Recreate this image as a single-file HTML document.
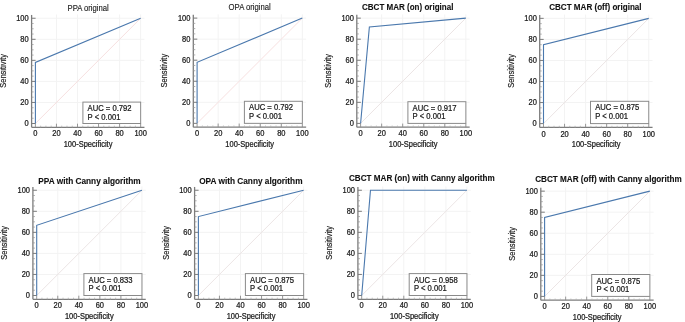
<!DOCTYPE html>
<html><head><meta charset="utf-8"><style>
html,body{margin:0;padding:0;background:#fff;}
body{width:685px;height:322px;overflow:hidden;}
svg{display:block;filter:blur(0.3px);}
.t{font-family:"Liberation Sans",sans-serif;font-size:7.5px;fill:#1a1a1a;stroke:#1a1a1a;stroke-width:0.22px;}
.tt{font-family:"Liberation Sans",sans-serif;font-size:7.7px;fill:#1a1a1a;stroke:#1a1a1a;stroke-width:0.12px;}
.ts{font-family:"Liberation Sans",sans-serif;font-size:7.5px;fill:#1a1a1a;stroke:#1a1a1a;stroke-width:0.15px;}
.tx{font-family:"Liberation Sans",sans-serif;font-size:7.65px;fill:#1a1a1a;stroke:#1a1a1a;stroke-width:0.22px;}
.tb{font-family:"Liberation Sans",sans-serif;font-size:9.5px;font-weight:bold;fill:#111;stroke:#111;stroke-width:0.12px;}
</style></head><body>
<svg width="685" height="322" viewBox="0 0 685 322">
<rect width="685" height="322" fill="#fff"/>
<g><line x1="56.45" y1="127.30" x2="56.45" y2="14.45" stroke="#f3f3f3" stroke-width="1"/><line x1="31.60" y1="102.45" x2="144.45" y2="102.45" stroke="#f3f3f3" stroke-width="1"/><line x1="77.50" y1="127.30" x2="77.50" y2="14.45" stroke="#f3f3f3" stroke-width="1"/><line x1="31.60" y1="81.40" x2="144.45" y2="81.40" stroke="#f3f3f3" stroke-width="1"/><line x1="98.55" y1="127.30" x2="98.55" y2="14.45" stroke="#f3f3f3" stroke-width="1"/><line x1="31.60" y1="60.35" x2="144.45" y2="60.35" stroke="#f3f3f3" stroke-width="1"/><line x1="119.60" y1="127.30" x2="119.60" y2="14.45" stroke="#f3f3f3" stroke-width="1"/><line x1="31.60" y1="39.30" x2="144.45" y2="39.30" stroke="#f3f3f3" stroke-width="1"/><line x1="140.65" y1="127.30" x2="140.65" y2="14.45" stroke="#f3f3f3" stroke-width="1"/><line x1="31.60" y1="18.25" x2="144.45" y2="18.25" stroke="#f3f3f3" stroke-width="1"/><line x1="35.40" y1="123.50" x2="140.65" y2="18.25" stroke="#f7e0e0" stroke-width="1"/><line x1="31.60" y1="14.95" x2="31.60" y2="127.30" stroke="#7c7c7c" stroke-width="1.3"/><line x1="31.60" y1="127.30" x2="144.45" y2="127.30" stroke="#7c7c7c" stroke-width="1.3"/><line x1="31.60" y1="123.50" x2="35.60" y2="123.50" stroke="#7c7c7c" stroke-width="1"/><line x1="35.40" y1="127.30" x2="35.40" y2="123.70" stroke="#8c8c8c" stroke-width="0.9"/><line x1="31.60" y1="118.24" x2="33.60" y2="118.24" stroke="#9a9a9a" stroke-width="0.8"/><line x1="40.66" y1="127.30" x2="40.66" y2="125.70" stroke="#b4b4b4" stroke-width="0.9"/><line x1="31.60" y1="112.97" x2="33.60" y2="112.97" stroke="#9a9a9a" stroke-width="0.8"/><line x1="45.92" y1="127.30" x2="45.92" y2="125.70" stroke="#b4b4b4" stroke-width="0.9"/><line x1="31.60" y1="107.71" x2="33.60" y2="107.71" stroke="#9a9a9a" stroke-width="0.8"/><line x1="51.19" y1="127.30" x2="51.19" y2="125.70" stroke="#b4b4b4" stroke-width="0.9"/><line x1="31.60" y1="102.45" x2="35.60" y2="102.45" stroke="#7c7c7c" stroke-width="1"/><line x1="56.45" y1="127.30" x2="56.45" y2="123.70" stroke="#8c8c8c" stroke-width="0.9"/><line x1="31.60" y1="97.19" x2="33.60" y2="97.19" stroke="#9a9a9a" stroke-width="0.8"/><line x1="61.71" y1="127.30" x2="61.71" y2="125.70" stroke="#b4b4b4" stroke-width="0.9"/><line x1="31.60" y1="91.92" x2="33.60" y2="91.92" stroke="#9a9a9a" stroke-width="0.8"/><line x1="66.97" y1="127.30" x2="66.97" y2="125.70" stroke="#b4b4b4" stroke-width="0.9"/><line x1="31.60" y1="86.66" x2="33.60" y2="86.66" stroke="#9a9a9a" stroke-width="0.8"/><line x1="72.24" y1="127.30" x2="72.24" y2="125.70" stroke="#b4b4b4" stroke-width="0.9"/><line x1="31.60" y1="81.40" x2="35.60" y2="81.40" stroke="#7c7c7c" stroke-width="1"/><line x1="77.50" y1="127.30" x2="77.50" y2="123.70" stroke="#8c8c8c" stroke-width="0.9"/><line x1="31.60" y1="76.14" x2="33.60" y2="76.14" stroke="#9a9a9a" stroke-width="0.8"/><line x1="82.76" y1="127.30" x2="82.76" y2="125.70" stroke="#b4b4b4" stroke-width="0.9"/><line x1="31.60" y1="70.88" x2="33.60" y2="70.88" stroke="#9a9a9a" stroke-width="0.8"/><line x1="88.03" y1="127.30" x2="88.03" y2="125.70" stroke="#b4b4b4" stroke-width="0.9"/><line x1="31.60" y1="65.61" x2="33.60" y2="65.61" stroke="#9a9a9a" stroke-width="0.8"/><line x1="93.29" y1="127.30" x2="93.29" y2="125.70" stroke="#b4b4b4" stroke-width="0.9"/><line x1="31.60" y1="60.35" x2="35.60" y2="60.35" stroke="#7c7c7c" stroke-width="1"/><line x1="98.55" y1="127.30" x2="98.55" y2="123.70" stroke="#8c8c8c" stroke-width="0.9"/><line x1="31.60" y1="55.09" x2="33.60" y2="55.09" stroke="#9a9a9a" stroke-width="0.8"/><line x1="103.81" y1="127.30" x2="103.81" y2="125.70" stroke="#b4b4b4" stroke-width="0.9"/><line x1="31.60" y1="49.83" x2="33.60" y2="49.83" stroke="#9a9a9a" stroke-width="0.8"/><line x1="109.07" y1="127.30" x2="109.07" y2="125.70" stroke="#b4b4b4" stroke-width="0.9"/><line x1="31.60" y1="44.56" x2="33.60" y2="44.56" stroke="#9a9a9a" stroke-width="0.8"/><line x1="114.34" y1="127.30" x2="114.34" y2="125.70" stroke="#b4b4b4" stroke-width="0.9"/><line x1="31.60" y1="39.30" x2="35.60" y2="39.30" stroke="#7c7c7c" stroke-width="1"/><line x1="119.60" y1="127.30" x2="119.60" y2="123.70" stroke="#8c8c8c" stroke-width="0.9"/><line x1="31.60" y1="34.04" x2="33.60" y2="34.04" stroke="#9a9a9a" stroke-width="0.8"/><line x1="124.86" y1="127.30" x2="124.86" y2="125.70" stroke="#b4b4b4" stroke-width="0.9"/><line x1="31.60" y1="28.78" x2="33.60" y2="28.78" stroke="#9a9a9a" stroke-width="0.8"/><line x1="130.12" y1="127.30" x2="130.12" y2="125.70" stroke="#b4b4b4" stroke-width="0.9"/><line x1="31.60" y1="23.51" x2="33.60" y2="23.51" stroke="#9a9a9a" stroke-width="0.8"/><line x1="135.39" y1="127.30" x2="135.39" y2="125.70" stroke="#b4b4b4" stroke-width="0.9"/><line x1="31.60" y1="18.25" x2="35.60" y2="18.25" stroke="#7c7c7c" stroke-width="1"/><line x1="140.65" y1="127.30" x2="140.65" y2="123.70" stroke="#8c8c8c" stroke-width="0.9"/><text transform="translate(28.70,126.20) scale(1,1.1)" text-anchor="end" class="t">0</text><text transform="translate(35.40,136.40) scale(1,1.1)" text-anchor="middle" class="t">0</text><text transform="translate(28.70,105.15) scale(1,1.1)" text-anchor="end" class="t">20</text><text transform="translate(56.45,136.40) scale(1,1.1)" text-anchor="middle" class="t">20</text><text transform="translate(28.70,84.10) scale(1,1.1)" text-anchor="end" class="t">40</text><text transform="translate(77.50,136.40) scale(1,1.1)" text-anchor="middle" class="t">40</text><text transform="translate(28.70,63.05) scale(1,1.1)" text-anchor="end" class="t">60</text><text transform="translate(98.55,136.40) scale(1,1.1)" text-anchor="middle" class="t">60</text><text transform="translate(28.70,42.00) scale(1,1.1)" text-anchor="end" class="t">80</text><text transform="translate(119.60,136.40) scale(1,1.1)" text-anchor="middle" class="t">80</text><text transform="translate(28.70,20.95) scale(1,1.1)" text-anchor="end" class="t">100</text><text transform="translate(140.65,136.40) scale(1,1.1)" text-anchor="middle" class="t">100</text><text transform="translate(88.03,147.30) scale(1,1.1)" text-anchor="middle" class="t">100-Specificity</text><text transform="translate(5.80,70.88) rotate(-90) scale(1,1.1)" text-anchor="middle" class="ts">Sensitivity</text><text transform="translate(88.15,11.10) scale(1,1.1)" text-anchor="middle" class="tt">PPA original</text><polyline points="35.40,123.50 35.40,62.45 140.65,18.25" fill="none" stroke="#4a78ad" stroke-width="1.1" stroke-linejoin="miter"/><rect x="82.90" y="102.10" width="57.75" height="21.40" fill="#fff" stroke="#8a8a8a" stroke-width="1"/><text transform="translate(87.60,111.20) scale(1,1.1)" class="tx">AUC = 0.792</text><text transform="translate(87.60,119.70) scale(1,1.1)" class="tx">P &lt; 0.001</text></g>
<g><line x1="218.15" y1="127.15" x2="218.15" y2="14.30" stroke="#f3f3f3" stroke-width="1"/><line x1="193.30" y1="102.30" x2="306.15" y2="102.30" stroke="#f3f3f3" stroke-width="1"/><line x1="239.20" y1="127.15" x2="239.20" y2="14.30" stroke="#f3f3f3" stroke-width="1"/><line x1="193.30" y1="81.25" x2="306.15" y2="81.25" stroke="#f3f3f3" stroke-width="1"/><line x1="260.25" y1="127.15" x2="260.25" y2="14.30" stroke="#f3f3f3" stroke-width="1"/><line x1="193.30" y1="60.20" x2="306.15" y2="60.20" stroke="#f3f3f3" stroke-width="1"/><line x1="281.30" y1="127.15" x2="281.30" y2="14.30" stroke="#f3f3f3" stroke-width="1"/><line x1="193.30" y1="39.15" x2="306.15" y2="39.15" stroke="#f3f3f3" stroke-width="1"/><line x1="302.35" y1="127.15" x2="302.35" y2="14.30" stroke="#f3f3f3" stroke-width="1"/><line x1="193.30" y1="18.10" x2="306.15" y2="18.10" stroke="#f3f3f3" stroke-width="1"/><line x1="197.10" y1="123.35" x2="302.35" y2="18.10" stroke="#f7e0e0" stroke-width="1"/><line x1="193.30" y1="14.80" x2="193.30" y2="127.15" stroke="#7c7c7c" stroke-width="1.3"/><line x1="193.30" y1="127.15" x2="306.15" y2="127.15" stroke="#7c7c7c" stroke-width="1.3"/><line x1="193.30" y1="123.35" x2="197.30" y2="123.35" stroke="#7c7c7c" stroke-width="1"/><line x1="197.10" y1="127.15" x2="197.10" y2="123.55" stroke="#8c8c8c" stroke-width="0.9"/><line x1="193.30" y1="118.09" x2="195.30" y2="118.09" stroke="#9a9a9a" stroke-width="0.8"/><line x1="202.36" y1="127.15" x2="202.36" y2="125.55" stroke="#b4b4b4" stroke-width="0.9"/><line x1="193.30" y1="112.82" x2="195.30" y2="112.82" stroke="#9a9a9a" stroke-width="0.8"/><line x1="207.62" y1="127.15" x2="207.62" y2="125.55" stroke="#b4b4b4" stroke-width="0.9"/><line x1="193.30" y1="107.56" x2="195.30" y2="107.56" stroke="#9a9a9a" stroke-width="0.8"/><line x1="212.89" y1="127.15" x2="212.89" y2="125.55" stroke="#b4b4b4" stroke-width="0.9"/><line x1="193.30" y1="102.30" x2="197.30" y2="102.30" stroke="#7c7c7c" stroke-width="1"/><line x1="218.15" y1="127.15" x2="218.15" y2="123.55" stroke="#8c8c8c" stroke-width="0.9"/><line x1="193.30" y1="97.04" x2="195.30" y2="97.04" stroke="#9a9a9a" stroke-width="0.8"/><line x1="223.41" y1="127.15" x2="223.41" y2="125.55" stroke="#b4b4b4" stroke-width="0.9"/><line x1="193.30" y1="91.77" x2="195.30" y2="91.77" stroke="#9a9a9a" stroke-width="0.8"/><line x1="228.67" y1="127.15" x2="228.67" y2="125.55" stroke="#b4b4b4" stroke-width="0.9"/><line x1="193.30" y1="86.51" x2="195.30" y2="86.51" stroke="#9a9a9a" stroke-width="0.8"/><line x1="233.94" y1="127.15" x2="233.94" y2="125.55" stroke="#b4b4b4" stroke-width="0.9"/><line x1="193.30" y1="81.25" x2="197.30" y2="81.25" stroke="#7c7c7c" stroke-width="1"/><line x1="239.20" y1="127.15" x2="239.20" y2="123.55" stroke="#8c8c8c" stroke-width="0.9"/><line x1="193.30" y1="75.99" x2="195.30" y2="75.99" stroke="#9a9a9a" stroke-width="0.8"/><line x1="244.46" y1="127.15" x2="244.46" y2="125.55" stroke="#b4b4b4" stroke-width="0.9"/><line x1="193.30" y1="70.72" x2="195.30" y2="70.72" stroke="#9a9a9a" stroke-width="0.8"/><line x1="249.72" y1="127.15" x2="249.72" y2="125.55" stroke="#b4b4b4" stroke-width="0.9"/><line x1="193.30" y1="65.46" x2="195.30" y2="65.46" stroke="#9a9a9a" stroke-width="0.8"/><line x1="254.99" y1="127.15" x2="254.99" y2="125.55" stroke="#b4b4b4" stroke-width="0.9"/><line x1="193.30" y1="60.20" x2="197.30" y2="60.20" stroke="#7c7c7c" stroke-width="1"/><line x1="260.25" y1="127.15" x2="260.25" y2="123.55" stroke="#8c8c8c" stroke-width="0.9"/><line x1="193.30" y1="54.94" x2="195.30" y2="54.94" stroke="#9a9a9a" stroke-width="0.8"/><line x1="265.51" y1="127.15" x2="265.51" y2="125.55" stroke="#b4b4b4" stroke-width="0.9"/><line x1="193.30" y1="49.67" x2="195.30" y2="49.67" stroke="#9a9a9a" stroke-width="0.8"/><line x1="270.77" y1="127.15" x2="270.77" y2="125.55" stroke="#b4b4b4" stroke-width="0.9"/><line x1="193.30" y1="44.41" x2="195.30" y2="44.41" stroke="#9a9a9a" stroke-width="0.8"/><line x1="276.04" y1="127.15" x2="276.04" y2="125.55" stroke="#b4b4b4" stroke-width="0.9"/><line x1="193.30" y1="39.15" x2="197.30" y2="39.15" stroke="#7c7c7c" stroke-width="1"/><line x1="281.30" y1="127.15" x2="281.30" y2="123.55" stroke="#8c8c8c" stroke-width="0.9"/><line x1="193.30" y1="33.89" x2="195.30" y2="33.89" stroke="#9a9a9a" stroke-width="0.8"/><line x1="286.56" y1="127.15" x2="286.56" y2="125.55" stroke="#b4b4b4" stroke-width="0.9"/><line x1="193.30" y1="28.62" x2="195.30" y2="28.62" stroke="#9a9a9a" stroke-width="0.8"/><line x1="291.82" y1="127.15" x2="291.82" y2="125.55" stroke="#b4b4b4" stroke-width="0.9"/><line x1="193.30" y1="23.36" x2="195.30" y2="23.36" stroke="#9a9a9a" stroke-width="0.8"/><line x1="297.09" y1="127.15" x2="297.09" y2="125.55" stroke="#b4b4b4" stroke-width="0.9"/><line x1="193.30" y1="18.10" x2="197.30" y2="18.10" stroke="#7c7c7c" stroke-width="1"/><line x1="302.35" y1="127.15" x2="302.35" y2="123.55" stroke="#8c8c8c" stroke-width="0.9"/><text transform="translate(190.40,126.05) scale(1,1.1)" text-anchor="end" class="t">0</text><text transform="translate(197.10,136.25) scale(1,1.1)" text-anchor="middle" class="t">0</text><text transform="translate(190.40,105.00) scale(1,1.1)" text-anchor="end" class="t">20</text><text transform="translate(218.15,136.25) scale(1,1.1)" text-anchor="middle" class="t">20</text><text transform="translate(190.40,83.95) scale(1,1.1)" text-anchor="end" class="t">40</text><text transform="translate(239.20,136.25) scale(1,1.1)" text-anchor="middle" class="t">40</text><text transform="translate(190.40,62.90) scale(1,1.1)" text-anchor="end" class="t">60</text><text transform="translate(260.25,136.25) scale(1,1.1)" text-anchor="middle" class="t">60</text><text transform="translate(190.40,41.85) scale(1,1.1)" text-anchor="end" class="t">80</text><text transform="translate(281.30,136.25) scale(1,1.1)" text-anchor="middle" class="t">80</text><text transform="translate(190.40,20.80) scale(1,1.1)" text-anchor="end" class="t">100</text><text transform="translate(302.35,136.25) scale(1,1.1)" text-anchor="middle" class="t">100</text><text transform="translate(249.73,147.15) scale(1,1.1)" text-anchor="middle" class="t">100-Specificity</text><text transform="translate(167.20,70.72) rotate(-90) scale(1,1.1)" text-anchor="middle" class="ts">Sensitivity</text><text transform="translate(249.70,10.30) scale(1,1.1)" text-anchor="middle" class="tt">OPA original</text><polyline points="197.10,123.35 197.10,62.30 302.35,18.10" fill="none" stroke="#4a78ad" stroke-width="1.1" stroke-linejoin="miter"/><rect x="244.40" y="101.30" width="57.95" height="22.05" fill="#fff" stroke="#8a8a8a" stroke-width="1"/><text transform="translate(249.10,110.40) scale(1,1.1)" class="tx">AUC = 0.792</text><text transform="translate(249.10,118.90) scale(1,1.1)" class="tx">P &lt; 0.001</text></g>
<g><line x1="381.65" y1="127.20" x2="381.65" y2="14.35" stroke="#f3f3f3" stroke-width="1"/><line x1="356.80" y1="102.35" x2="469.65" y2="102.35" stroke="#f3f3f3" stroke-width="1"/><line x1="402.70" y1="127.20" x2="402.70" y2="14.35" stroke="#f3f3f3" stroke-width="1"/><line x1="356.80" y1="81.30" x2="469.65" y2="81.30" stroke="#f3f3f3" stroke-width="1"/><line x1="423.75" y1="127.20" x2="423.75" y2="14.35" stroke="#f3f3f3" stroke-width="1"/><line x1="356.80" y1="60.25" x2="469.65" y2="60.25" stroke="#f3f3f3" stroke-width="1"/><line x1="444.80" y1="127.20" x2="444.80" y2="14.35" stroke="#f3f3f3" stroke-width="1"/><line x1="356.80" y1="39.20" x2="469.65" y2="39.20" stroke="#f3f3f3" stroke-width="1"/><line x1="465.85" y1="127.20" x2="465.85" y2="14.35" stroke="#f3f3f3" stroke-width="1"/><line x1="356.80" y1="18.15" x2="469.65" y2="18.15" stroke="#f3f3f3" stroke-width="1"/><line x1="360.60" y1="123.40" x2="465.85" y2="18.15" stroke="#ece5e5" stroke-width="1"/><line x1="356.80" y1="14.85" x2="356.80" y2="127.20" stroke="#7c7c7c" stroke-width="1.3"/><line x1="356.80" y1="127.20" x2="469.65" y2="127.20" stroke="#7c7c7c" stroke-width="1.3"/><line x1="356.80" y1="123.40" x2="360.80" y2="123.40" stroke="#7c7c7c" stroke-width="1"/><line x1="360.60" y1="127.20" x2="360.60" y2="123.60" stroke="#8c8c8c" stroke-width="0.9"/><line x1="356.80" y1="118.14" x2="358.80" y2="118.14" stroke="#9a9a9a" stroke-width="0.8"/><line x1="365.86" y1="127.20" x2="365.86" y2="125.60" stroke="#b4b4b4" stroke-width="0.9"/><line x1="356.80" y1="112.88" x2="358.80" y2="112.88" stroke="#9a9a9a" stroke-width="0.8"/><line x1="371.12" y1="127.20" x2="371.12" y2="125.60" stroke="#b4b4b4" stroke-width="0.9"/><line x1="356.80" y1="107.61" x2="358.80" y2="107.61" stroke="#9a9a9a" stroke-width="0.8"/><line x1="376.39" y1="127.20" x2="376.39" y2="125.60" stroke="#b4b4b4" stroke-width="0.9"/><line x1="356.80" y1="102.35" x2="360.80" y2="102.35" stroke="#7c7c7c" stroke-width="1"/><line x1="381.65" y1="127.20" x2="381.65" y2="123.60" stroke="#8c8c8c" stroke-width="0.9"/><line x1="356.80" y1="97.09" x2="358.80" y2="97.09" stroke="#9a9a9a" stroke-width="0.8"/><line x1="386.91" y1="127.20" x2="386.91" y2="125.60" stroke="#b4b4b4" stroke-width="0.9"/><line x1="356.80" y1="91.83" x2="358.80" y2="91.83" stroke="#9a9a9a" stroke-width="0.8"/><line x1="392.18" y1="127.20" x2="392.18" y2="125.60" stroke="#b4b4b4" stroke-width="0.9"/><line x1="356.80" y1="86.56" x2="358.80" y2="86.56" stroke="#9a9a9a" stroke-width="0.8"/><line x1="397.44" y1="127.20" x2="397.44" y2="125.60" stroke="#b4b4b4" stroke-width="0.9"/><line x1="356.80" y1="81.30" x2="360.80" y2="81.30" stroke="#7c7c7c" stroke-width="1"/><line x1="402.70" y1="127.20" x2="402.70" y2="123.60" stroke="#8c8c8c" stroke-width="0.9"/><line x1="356.80" y1="76.04" x2="358.80" y2="76.04" stroke="#9a9a9a" stroke-width="0.8"/><line x1="407.96" y1="127.20" x2="407.96" y2="125.60" stroke="#b4b4b4" stroke-width="0.9"/><line x1="356.80" y1="70.78" x2="358.80" y2="70.78" stroke="#9a9a9a" stroke-width="0.8"/><line x1="413.23" y1="127.20" x2="413.23" y2="125.60" stroke="#b4b4b4" stroke-width="0.9"/><line x1="356.80" y1="65.51" x2="358.80" y2="65.51" stroke="#9a9a9a" stroke-width="0.8"/><line x1="418.49" y1="127.20" x2="418.49" y2="125.60" stroke="#b4b4b4" stroke-width="0.9"/><line x1="356.80" y1="60.25" x2="360.80" y2="60.25" stroke="#7c7c7c" stroke-width="1"/><line x1="423.75" y1="127.20" x2="423.75" y2="123.60" stroke="#8c8c8c" stroke-width="0.9"/><line x1="356.80" y1="54.99" x2="358.80" y2="54.99" stroke="#9a9a9a" stroke-width="0.8"/><line x1="429.01" y1="127.20" x2="429.01" y2="125.60" stroke="#b4b4b4" stroke-width="0.9"/><line x1="356.80" y1="49.73" x2="358.80" y2="49.73" stroke="#9a9a9a" stroke-width="0.8"/><line x1="434.28" y1="127.20" x2="434.28" y2="125.60" stroke="#b4b4b4" stroke-width="0.9"/><line x1="356.80" y1="44.46" x2="358.80" y2="44.46" stroke="#9a9a9a" stroke-width="0.8"/><line x1="439.54" y1="127.20" x2="439.54" y2="125.60" stroke="#b4b4b4" stroke-width="0.9"/><line x1="356.80" y1="39.20" x2="360.80" y2="39.20" stroke="#7c7c7c" stroke-width="1"/><line x1="444.80" y1="127.20" x2="444.80" y2="123.60" stroke="#8c8c8c" stroke-width="0.9"/><line x1="356.80" y1="33.94" x2="358.80" y2="33.94" stroke="#9a9a9a" stroke-width="0.8"/><line x1="450.06" y1="127.20" x2="450.06" y2="125.60" stroke="#b4b4b4" stroke-width="0.9"/><line x1="356.80" y1="28.68" x2="358.80" y2="28.68" stroke="#9a9a9a" stroke-width="0.8"/><line x1="455.33" y1="127.20" x2="455.33" y2="125.60" stroke="#b4b4b4" stroke-width="0.9"/><line x1="356.80" y1="23.41" x2="358.80" y2="23.41" stroke="#9a9a9a" stroke-width="0.8"/><line x1="460.59" y1="127.20" x2="460.59" y2="125.60" stroke="#b4b4b4" stroke-width="0.9"/><line x1="356.80" y1="18.15" x2="360.80" y2="18.15" stroke="#7c7c7c" stroke-width="1"/><line x1="465.85" y1="127.20" x2="465.85" y2="123.60" stroke="#8c8c8c" stroke-width="0.9"/><text transform="translate(353.90,126.10) scale(1,1.1)" text-anchor="end" class="t">0</text><text transform="translate(360.60,136.30) scale(1,1.1)" text-anchor="middle" class="t">0</text><text transform="translate(353.90,105.05) scale(1,1.1)" text-anchor="end" class="t">20</text><text transform="translate(381.65,136.30) scale(1,1.1)" text-anchor="middle" class="t">20</text><text transform="translate(353.90,84.00) scale(1,1.1)" text-anchor="end" class="t">40</text><text transform="translate(402.70,136.30) scale(1,1.1)" text-anchor="middle" class="t">40</text><text transform="translate(353.90,62.95) scale(1,1.1)" text-anchor="end" class="t">60</text><text transform="translate(423.75,136.30) scale(1,1.1)" text-anchor="middle" class="t">60</text><text transform="translate(353.90,41.90) scale(1,1.1)" text-anchor="end" class="t">80</text><text transform="translate(444.80,136.30) scale(1,1.1)" text-anchor="middle" class="t">80</text><text transform="translate(353.90,20.85) scale(1,1.1)" text-anchor="end" class="t">100</text><text transform="translate(465.85,136.30) scale(1,1.1)" text-anchor="middle" class="t">100</text><text transform="translate(413.23,147.20) scale(1,1.1)" text-anchor="middle" class="t">100-Specificity</text><text transform="translate(331.30,70.78) rotate(-90) scale(1,1.1)" text-anchor="middle" class="ts">Sensitivity</text><text x="362.00" y="10.00" textLength="91.40" lengthAdjust="spacingAndGlyphs" class="tb">CBCT MAR (on) original</text><polyline points="360.60,123.40 369.37,26.92 465.85,18.15" fill="none" stroke="#4a78ad" stroke-width="1.1" stroke-linejoin="miter"/><rect x="407.90" y="101.70" width="57.95" height="21.70" fill="#fff" stroke="#8a8a8a" stroke-width="1"/><text transform="translate(412.60,110.80) scale(1,1.1)" class="tx">AUC = 0.917</text><text transform="translate(412.60,119.30) scale(1,1.1)" class="tx">P &lt; 0.001</text></g>
<g><line x1="564.55" y1="127.40" x2="564.55" y2="14.55" stroke="#f3f3f3" stroke-width="1"/><line x1="539.70" y1="102.55" x2="652.55" y2="102.55" stroke="#f3f3f3" stroke-width="1"/><line x1="585.60" y1="127.40" x2="585.60" y2="14.55" stroke="#f3f3f3" stroke-width="1"/><line x1="539.70" y1="81.50" x2="652.55" y2="81.50" stroke="#f3f3f3" stroke-width="1"/><line x1="606.65" y1="127.40" x2="606.65" y2="14.55" stroke="#f3f3f3" stroke-width="1"/><line x1="539.70" y1="60.45" x2="652.55" y2="60.45" stroke="#f3f3f3" stroke-width="1"/><line x1="627.70" y1="127.40" x2="627.70" y2="14.55" stroke="#f3f3f3" stroke-width="1"/><line x1="539.70" y1="39.40" x2="652.55" y2="39.40" stroke="#f3f3f3" stroke-width="1"/><line x1="648.75" y1="127.40" x2="648.75" y2="14.55" stroke="#f3f3f3" stroke-width="1"/><line x1="539.70" y1="18.35" x2="652.55" y2="18.35" stroke="#f3f3f3" stroke-width="1"/><line x1="543.50" y1="123.60" x2="648.75" y2="18.35" stroke="#ece5e5" stroke-width="1"/><line x1="539.70" y1="15.05" x2="539.70" y2="127.40" stroke="#7c7c7c" stroke-width="1.3"/><line x1="539.70" y1="127.40" x2="652.55" y2="127.40" stroke="#7c7c7c" stroke-width="1.3"/><line x1="539.70" y1="123.60" x2="543.70" y2="123.60" stroke="#7c7c7c" stroke-width="1"/><line x1="543.50" y1="127.40" x2="543.50" y2="123.80" stroke="#8c8c8c" stroke-width="0.9"/><line x1="539.70" y1="118.34" x2="541.70" y2="118.34" stroke="#9a9a9a" stroke-width="0.8"/><line x1="548.76" y1="127.40" x2="548.76" y2="125.80" stroke="#b4b4b4" stroke-width="0.9"/><line x1="539.70" y1="113.07" x2="541.70" y2="113.07" stroke="#9a9a9a" stroke-width="0.8"/><line x1="554.02" y1="127.40" x2="554.02" y2="125.80" stroke="#b4b4b4" stroke-width="0.9"/><line x1="539.70" y1="107.81" x2="541.70" y2="107.81" stroke="#9a9a9a" stroke-width="0.8"/><line x1="559.29" y1="127.40" x2="559.29" y2="125.80" stroke="#b4b4b4" stroke-width="0.9"/><line x1="539.70" y1="102.55" x2="543.70" y2="102.55" stroke="#7c7c7c" stroke-width="1"/><line x1="564.55" y1="127.40" x2="564.55" y2="123.80" stroke="#8c8c8c" stroke-width="0.9"/><line x1="539.70" y1="97.29" x2="541.70" y2="97.29" stroke="#9a9a9a" stroke-width="0.8"/><line x1="569.81" y1="127.40" x2="569.81" y2="125.80" stroke="#b4b4b4" stroke-width="0.9"/><line x1="539.70" y1="92.02" x2="541.70" y2="92.02" stroke="#9a9a9a" stroke-width="0.8"/><line x1="575.08" y1="127.40" x2="575.08" y2="125.80" stroke="#b4b4b4" stroke-width="0.9"/><line x1="539.70" y1="86.76" x2="541.70" y2="86.76" stroke="#9a9a9a" stroke-width="0.8"/><line x1="580.34" y1="127.40" x2="580.34" y2="125.80" stroke="#b4b4b4" stroke-width="0.9"/><line x1="539.70" y1="81.50" x2="543.70" y2="81.50" stroke="#7c7c7c" stroke-width="1"/><line x1="585.60" y1="127.40" x2="585.60" y2="123.80" stroke="#8c8c8c" stroke-width="0.9"/><line x1="539.70" y1="76.24" x2="541.70" y2="76.24" stroke="#9a9a9a" stroke-width="0.8"/><line x1="590.86" y1="127.40" x2="590.86" y2="125.80" stroke="#b4b4b4" stroke-width="0.9"/><line x1="539.70" y1="70.97" x2="541.70" y2="70.97" stroke="#9a9a9a" stroke-width="0.8"/><line x1="596.12" y1="127.40" x2="596.12" y2="125.80" stroke="#b4b4b4" stroke-width="0.9"/><line x1="539.70" y1="65.71" x2="541.70" y2="65.71" stroke="#9a9a9a" stroke-width="0.8"/><line x1="601.39" y1="127.40" x2="601.39" y2="125.80" stroke="#b4b4b4" stroke-width="0.9"/><line x1="539.70" y1="60.45" x2="543.70" y2="60.45" stroke="#7c7c7c" stroke-width="1"/><line x1="606.65" y1="127.40" x2="606.65" y2="123.80" stroke="#8c8c8c" stroke-width="0.9"/><line x1="539.70" y1="55.19" x2="541.70" y2="55.19" stroke="#9a9a9a" stroke-width="0.8"/><line x1="611.91" y1="127.40" x2="611.91" y2="125.80" stroke="#b4b4b4" stroke-width="0.9"/><line x1="539.70" y1="49.92" x2="541.70" y2="49.92" stroke="#9a9a9a" stroke-width="0.8"/><line x1="617.17" y1="127.40" x2="617.17" y2="125.80" stroke="#b4b4b4" stroke-width="0.9"/><line x1="539.70" y1="44.66" x2="541.70" y2="44.66" stroke="#9a9a9a" stroke-width="0.8"/><line x1="622.44" y1="127.40" x2="622.44" y2="125.80" stroke="#b4b4b4" stroke-width="0.9"/><line x1="539.70" y1="39.40" x2="543.70" y2="39.40" stroke="#7c7c7c" stroke-width="1"/><line x1="627.70" y1="127.40" x2="627.70" y2="123.80" stroke="#8c8c8c" stroke-width="0.9"/><line x1="539.70" y1="34.14" x2="541.70" y2="34.14" stroke="#9a9a9a" stroke-width="0.8"/><line x1="632.96" y1="127.40" x2="632.96" y2="125.80" stroke="#b4b4b4" stroke-width="0.9"/><line x1="539.70" y1="28.88" x2="541.70" y2="28.88" stroke="#9a9a9a" stroke-width="0.8"/><line x1="638.23" y1="127.40" x2="638.23" y2="125.80" stroke="#b4b4b4" stroke-width="0.9"/><line x1="539.70" y1="23.61" x2="541.70" y2="23.61" stroke="#9a9a9a" stroke-width="0.8"/><line x1="643.49" y1="127.40" x2="643.49" y2="125.80" stroke="#b4b4b4" stroke-width="0.9"/><line x1="539.70" y1="18.35" x2="543.70" y2="18.35" stroke="#7c7c7c" stroke-width="1"/><line x1="648.75" y1="127.40" x2="648.75" y2="123.80" stroke="#8c8c8c" stroke-width="0.9"/><text transform="translate(536.80,126.30) scale(1,1.1)" text-anchor="end" class="t">0</text><text transform="translate(543.50,136.50) scale(1,1.1)" text-anchor="middle" class="t">0</text><text transform="translate(536.80,105.25) scale(1,1.1)" text-anchor="end" class="t">20</text><text transform="translate(564.55,136.50) scale(1,1.1)" text-anchor="middle" class="t">20</text><text transform="translate(536.80,84.20) scale(1,1.1)" text-anchor="end" class="t">40</text><text transform="translate(585.60,136.50) scale(1,1.1)" text-anchor="middle" class="t">40</text><text transform="translate(536.80,63.15) scale(1,1.1)" text-anchor="end" class="t">60</text><text transform="translate(606.65,136.50) scale(1,1.1)" text-anchor="middle" class="t">60</text><text transform="translate(536.80,42.10) scale(1,1.1)" text-anchor="end" class="t">80</text><text transform="translate(627.70,136.50) scale(1,1.1)" text-anchor="middle" class="t">80</text><text transform="translate(536.80,21.05) scale(1,1.1)" text-anchor="end" class="t">100</text><text transform="translate(648.75,136.50) scale(1,1.1)" text-anchor="middle" class="t">100</text><text transform="translate(596.12,147.40) scale(1,1.1)" text-anchor="middle" class="t">100-Specificity</text><text transform="translate(514.20,70.97) rotate(-90) scale(1,1.1)" text-anchor="middle" class="ts">Sensitivity</text><text x="549.20" y="9.90" textLength="92.40" lengthAdjust="spacingAndGlyphs" class="tb">CBCT MAR (off) original</text><polyline points="543.50,123.60 543.50,44.66 648.75,18.35" fill="none" stroke="#4a78ad" stroke-width="1.1" stroke-linejoin="miter"/><rect x="590.50" y="101.30" width="58.25" height="22.30" fill="#fff" stroke="#8a8a8a" stroke-width="1"/><text transform="translate(595.20,110.40) scale(1,1.1)" class="tx">AUC = 0.875</text><text transform="translate(595.20,118.90) scale(1,1.1)" class="tx">P &lt; 0.001</text></g>
<g><line x1="57.75" y1="299.30" x2="57.75" y2="186.45" stroke="#f3f3f3" stroke-width="1"/><line x1="32.90" y1="274.45" x2="145.75" y2="274.45" stroke="#f3f3f3" stroke-width="1"/><line x1="78.80" y1="299.30" x2="78.80" y2="186.45" stroke="#f3f3f3" stroke-width="1"/><line x1="32.90" y1="253.40" x2="145.75" y2="253.40" stroke="#f3f3f3" stroke-width="1"/><line x1="99.85" y1="299.30" x2="99.85" y2="186.45" stroke="#f3f3f3" stroke-width="1"/><line x1="32.90" y1="232.35" x2="145.75" y2="232.35" stroke="#f3f3f3" stroke-width="1"/><line x1="120.90" y1="299.30" x2="120.90" y2="186.45" stroke="#f3f3f3" stroke-width="1"/><line x1="32.90" y1="211.30" x2="145.75" y2="211.30" stroke="#f3f3f3" stroke-width="1"/><line x1="141.95" y1="299.30" x2="141.95" y2="186.45" stroke="#f3f3f3" stroke-width="1"/><line x1="32.90" y1="190.25" x2="145.75" y2="190.25" stroke="#f3f3f3" stroke-width="1"/><line x1="36.70" y1="295.50" x2="141.95" y2="190.25" stroke="#ece5e5" stroke-width="1"/><line x1="32.90" y1="186.95" x2="32.90" y2="299.30" stroke="#7c7c7c" stroke-width="1.3"/><line x1="32.90" y1="299.30" x2="145.75" y2="299.30" stroke="#7c7c7c" stroke-width="1.3"/><line x1="32.90" y1="295.50" x2="36.90" y2="295.50" stroke="#7c7c7c" stroke-width="1"/><line x1="36.70" y1="299.30" x2="36.70" y2="295.70" stroke="#8c8c8c" stroke-width="0.9"/><line x1="32.90" y1="290.24" x2="34.90" y2="290.24" stroke="#9a9a9a" stroke-width="0.8"/><line x1="41.96" y1="299.30" x2="41.96" y2="297.70" stroke="#b4b4b4" stroke-width="0.9"/><line x1="32.90" y1="284.98" x2="34.90" y2="284.98" stroke="#9a9a9a" stroke-width="0.8"/><line x1="47.23" y1="299.30" x2="47.23" y2="297.70" stroke="#b4b4b4" stroke-width="0.9"/><line x1="32.90" y1="279.71" x2="34.90" y2="279.71" stroke="#9a9a9a" stroke-width="0.8"/><line x1="52.49" y1="299.30" x2="52.49" y2="297.70" stroke="#b4b4b4" stroke-width="0.9"/><line x1="32.90" y1="274.45" x2="36.90" y2="274.45" stroke="#7c7c7c" stroke-width="1"/><line x1="57.75" y1="299.30" x2="57.75" y2="295.70" stroke="#8c8c8c" stroke-width="0.9"/><line x1="32.90" y1="269.19" x2="34.90" y2="269.19" stroke="#9a9a9a" stroke-width="0.8"/><line x1="63.01" y1="299.30" x2="63.01" y2="297.70" stroke="#b4b4b4" stroke-width="0.9"/><line x1="32.90" y1="263.93" x2="34.90" y2="263.93" stroke="#9a9a9a" stroke-width="0.8"/><line x1="68.28" y1="299.30" x2="68.28" y2="297.70" stroke="#b4b4b4" stroke-width="0.9"/><line x1="32.90" y1="258.66" x2="34.90" y2="258.66" stroke="#9a9a9a" stroke-width="0.8"/><line x1="73.54" y1="299.30" x2="73.54" y2="297.70" stroke="#b4b4b4" stroke-width="0.9"/><line x1="32.90" y1="253.40" x2="36.90" y2="253.40" stroke="#7c7c7c" stroke-width="1"/><line x1="78.80" y1="299.30" x2="78.80" y2="295.70" stroke="#8c8c8c" stroke-width="0.9"/><line x1="32.90" y1="248.14" x2="34.90" y2="248.14" stroke="#9a9a9a" stroke-width="0.8"/><line x1="84.06" y1="299.30" x2="84.06" y2="297.70" stroke="#b4b4b4" stroke-width="0.9"/><line x1="32.90" y1="242.88" x2="34.90" y2="242.88" stroke="#9a9a9a" stroke-width="0.8"/><line x1="89.33" y1="299.30" x2="89.33" y2="297.70" stroke="#b4b4b4" stroke-width="0.9"/><line x1="32.90" y1="237.61" x2="34.90" y2="237.61" stroke="#9a9a9a" stroke-width="0.8"/><line x1="94.59" y1="299.30" x2="94.59" y2="297.70" stroke="#b4b4b4" stroke-width="0.9"/><line x1="32.90" y1="232.35" x2="36.90" y2="232.35" stroke="#7c7c7c" stroke-width="1"/><line x1="99.85" y1="299.30" x2="99.85" y2="295.70" stroke="#8c8c8c" stroke-width="0.9"/><line x1="32.90" y1="227.09" x2="34.90" y2="227.09" stroke="#9a9a9a" stroke-width="0.8"/><line x1="105.11" y1="299.30" x2="105.11" y2="297.70" stroke="#b4b4b4" stroke-width="0.9"/><line x1="32.90" y1="221.82" x2="34.90" y2="221.82" stroke="#9a9a9a" stroke-width="0.8"/><line x1="110.38" y1="299.30" x2="110.38" y2="297.70" stroke="#b4b4b4" stroke-width="0.9"/><line x1="32.90" y1="216.56" x2="34.90" y2="216.56" stroke="#9a9a9a" stroke-width="0.8"/><line x1="115.64" y1="299.30" x2="115.64" y2="297.70" stroke="#b4b4b4" stroke-width="0.9"/><line x1="32.90" y1="211.30" x2="36.90" y2="211.30" stroke="#7c7c7c" stroke-width="1"/><line x1="120.90" y1="299.30" x2="120.90" y2="295.70" stroke="#8c8c8c" stroke-width="0.9"/><line x1="32.90" y1="206.04" x2="34.90" y2="206.04" stroke="#9a9a9a" stroke-width="0.8"/><line x1="126.16" y1="299.30" x2="126.16" y2="297.70" stroke="#b4b4b4" stroke-width="0.9"/><line x1="32.90" y1="200.78" x2="34.90" y2="200.78" stroke="#9a9a9a" stroke-width="0.8"/><line x1="131.43" y1="299.30" x2="131.43" y2="297.70" stroke="#b4b4b4" stroke-width="0.9"/><line x1="32.90" y1="195.51" x2="34.90" y2="195.51" stroke="#9a9a9a" stroke-width="0.8"/><line x1="136.69" y1="299.30" x2="136.69" y2="297.70" stroke="#b4b4b4" stroke-width="0.9"/><line x1="32.90" y1="190.25" x2="36.90" y2="190.25" stroke="#7c7c7c" stroke-width="1"/><line x1="141.95" y1="299.30" x2="141.95" y2="295.70" stroke="#8c8c8c" stroke-width="0.9"/><text transform="translate(30.00,298.20) scale(1,1.1)" text-anchor="end" class="t">0</text><text transform="translate(36.70,308.40) scale(1,1.1)" text-anchor="middle" class="t">0</text><text transform="translate(30.00,277.15) scale(1,1.1)" text-anchor="end" class="t">20</text><text transform="translate(57.75,308.40) scale(1,1.1)" text-anchor="middle" class="t">20</text><text transform="translate(30.00,256.10) scale(1,1.1)" text-anchor="end" class="t">40</text><text transform="translate(78.80,308.40) scale(1,1.1)" text-anchor="middle" class="t">40</text><text transform="translate(30.00,235.05) scale(1,1.1)" text-anchor="end" class="t">60</text><text transform="translate(99.85,308.40) scale(1,1.1)" text-anchor="middle" class="t">60</text><text transform="translate(30.00,214.00) scale(1,1.1)" text-anchor="end" class="t">80</text><text transform="translate(120.90,308.40) scale(1,1.1)" text-anchor="middle" class="t">80</text><text transform="translate(30.00,192.95) scale(1,1.1)" text-anchor="end" class="t">100</text><text transform="translate(141.95,308.40) scale(1,1.1)" text-anchor="middle" class="t">100</text><text transform="translate(89.32,319.30) scale(1,1.1)" text-anchor="middle" class="t">100-Specificity</text><text transform="translate(6.80,242.88) rotate(-90) scale(1,1.1)" text-anchor="middle" class="ts">Sensitivity</text><text x="38.35" y="183.90" textLength="102.35" lengthAdjust="spacingAndGlyphs" class="tb">PPA with Canny algorithm</text><polyline points="36.70,295.50 36.70,225.33 141.95,190.25" fill="none" stroke="#4a78ad" stroke-width="1.1" stroke-linejoin="miter"/><rect x="83.90" y="273.60" width="58.05" height="21.90" fill="#fff" stroke="#8a8a8a" stroke-width="1"/><text transform="translate(88.60,282.70) scale(1,1.1)" class="tx">AUC = 0.833</text><text transform="translate(88.60,291.20) scale(1,1.1)" class="tx">P &lt; 0.001</text></g>
<g><line x1="219.45" y1="299.30" x2="219.45" y2="186.45" stroke="#f3f3f3" stroke-width="1"/><line x1="194.60" y1="274.45" x2="307.45" y2="274.45" stroke="#f3f3f3" stroke-width="1"/><line x1="240.50" y1="299.30" x2="240.50" y2="186.45" stroke="#f3f3f3" stroke-width="1"/><line x1="194.60" y1="253.40" x2="307.45" y2="253.40" stroke="#f3f3f3" stroke-width="1"/><line x1="261.55" y1="299.30" x2="261.55" y2="186.45" stroke="#f3f3f3" stroke-width="1"/><line x1="194.60" y1="232.35" x2="307.45" y2="232.35" stroke="#f3f3f3" stroke-width="1"/><line x1="282.60" y1="299.30" x2="282.60" y2="186.45" stroke="#f3f3f3" stroke-width="1"/><line x1="194.60" y1="211.30" x2="307.45" y2="211.30" stroke="#f3f3f3" stroke-width="1"/><line x1="303.65" y1="299.30" x2="303.65" y2="186.45" stroke="#f3f3f3" stroke-width="1"/><line x1="194.60" y1="190.25" x2="307.45" y2="190.25" stroke="#f3f3f3" stroke-width="1"/><line x1="198.40" y1="295.50" x2="303.65" y2="190.25" stroke="#ece5e5" stroke-width="1"/><line x1="194.60" y1="186.95" x2="194.60" y2="299.30" stroke="#7c7c7c" stroke-width="1.3"/><line x1="194.60" y1="299.30" x2="307.45" y2="299.30" stroke="#7c7c7c" stroke-width="1.3"/><line x1="194.60" y1="295.50" x2="198.60" y2="295.50" stroke="#7c7c7c" stroke-width="1"/><line x1="198.40" y1="299.30" x2="198.40" y2="295.70" stroke="#8c8c8c" stroke-width="0.9"/><line x1="194.60" y1="290.24" x2="196.60" y2="290.24" stroke="#9a9a9a" stroke-width="0.8"/><line x1="203.66" y1="299.30" x2="203.66" y2="297.70" stroke="#b4b4b4" stroke-width="0.9"/><line x1="194.60" y1="284.98" x2="196.60" y2="284.98" stroke="#9a9a9a" stroke-width="0.8"/><line x1="208.93" y1="299.30" x2="208.93" y2="297.70" stroke="#b4b4b4" stroke-width="0.9"/><line x1="194.60" y1="279.71" x2="196.60" y2="279.71" stroke="#9a9a9a" stroke-width="0.8"/><line x1="214.19" y1="299.30" x2="214.19" y2="297.70" stroke="#b4b4b4" stroke-width="0.9"/><line x1="194.60" y1="274.45" x2="198.60" y2="274.45" stroke="#7c7c7c" stroke-width="1"/><line x1="219.45" y1="299.30" x2="219.45" y2="295.70" stroke="#8c8c8c" stroke-width="0.9"/><line x1="194.60" y1="269.19" x2="196.60" y2="269.19" stroke="#9a9a9a" stroke-width="0.8"/><line x1="224.71" y1="299.30" x2="224.71" y2="297.70" stroke="#b4b4b4" stroke-width="0.9"/><line x1="194.60" y1="263.93" x2="196.60" y2="263.93" stroke="#9a9a9a" stroke-width="0.8"/><line x1="229.97" y1="299.30" x2="229.97" y2="297.70" stroke="#b4b4b4" stroke-width="0.9"/><line x1="194.60" y1="258.66" x2="196.60" y2="258.66" stroke="#9a9a9a" stroke-width="0.8"/><line x1="235.24" y1="299.30" x2="235.24" y2="297.70" stroke="#b4b4b4" stroke-width="0.9"/><line x1="194.60" y1="253.40" x2="198.60" y2="253.40" stroke="#7c7c7c" stroke-width="1"/><line x1="240.50" y1="299.30" x2="240.50" y2="295.70" stroke="#8c8c8c" stroke-width="0.9"/><line x1="194.60" y1="248.14" x2="196.60" y2="248.14" stroke="#9a9a9a" stroke-width="0.8"/><line x1="245.76" y1="299.30" x2="245.76" y2="297.70" stroke="#b4b4b4" stroke-width="0.9"/><line x1="194.60" y1="242.88" x2="196.60" y2="242.88" stroke="#9a9a9a" stroke-width="0.8"/><line x1="251.03" y1="299.30" x2="251.03" y2="297.70" stroke="#b4b4b4" stroke-width="0.9"/><line x1="194.60" y1="237.61" x2="196.60" y2="237.61" stroke="#9a9a9a" stroke-width="0.8"/><line x1="256.29" y1="299.30" x2="256.29" y2="297.70" stroke="#b4b4b4" stroke-width="0.9"/><line x1="194.60" y1="232.35" x2="198.60" y2="232.35" stroke="#7c7c7c" stroke-width="1"/><line x1="261.55" y1="299.30" x2="261.55" y2="295.70" stroke="#8c8c8c" stroke-width="0.9"/><line x1="194.60" y1="227.09" x2="196.60" y2="227.09" stroke="#9a9a9a" stroke-width="0.8"/><line x1="266.81" y1="299.30" x2="266.81" y2="297.70" stroke="#b4b4b4" stroke-width="0.9"/><line x1="194.60" y1="221.82" x2="196.60" y2="221.82" stroke="#9a9a9a" stroke-width="0.8"/><line x1="272.07" y1="299.30" x2="272.07" y2="297.70" stroke="#b4b4b4" stroke-width="0.9"/><line x1="194.60" y1="216.56" x2="196.60" y2="216.56" stroke="#9a9a9a" stroke-width="0.8"/><line x1="277.34" y1="299.30" x2="277.34" y2="297.70" stroke="#b4b4b4" stroke-width="0.9"/><line x1="194.60" y1="211.30" x2="198.60" y2="211.30" stroke="#7c7c7c" stroke-width="1"/><line x1="282.60" y1="299.30" x2="282.60" y2="295.70" stroke="#8c8c8c" stroke-width="0.9"/><line x1="194.60" y1="206.04" x2="196.60" y2="206.04" stroke="#9a9a9a" stroke-width="0.8"/><line x1="287.86" y1="299.30" x2="287.86" y2="297.70" stroke="#b4b4b4" stroke-width="0.9"/><line x1="194.60" y1="200.78" x2="196.60" y2="200.78" stroke="#9a9a9a" stroke-width="0.8"/><line x1="293.12" y1="299.30" x2="293.12" y2="297.70" stroke="#b4b4b4" stroke-width="0.9"/><line x1="194.60" y1="195.51" x2="196.60" y2="195.51" stroke="#9a9a9a" stroke-width="0.8"/><line x1="298.39" y1="299.30" x2="298.39" y2="297.70" stroke="#b4b4b4" stroke-width="0.9"/><line x1="194.60" y1="190.25" x2="198.60" y2="190.25" stroke="#7c7c7c" stroke-width="1"/><line x1="303.65" y1="299.30" x2="303.65" y2="295.70" stroke="#8c8c8c" stroke-width="0.9"/><text transform="translate(191.70,298.20) scale(1,1.1)" text-anchor="end" class="t">0</text><text transform="translate(198.40,308.40) scale(1,1.1)" text-anchor="middle" class="t">0</text><text transform="translate(191.70,277.15) scale(1,1.1)" text-anchor="end" class="t">20</text><text transform="translate(219.45,308.40) scale(1,1.1)" text-anchor="middle" class="t">20</text><text transform="translate(191.70,256.10) scale(1,1.1)" text-anchor="end" class="t">40</text><text transform="translate(240.50,308.40) scale(1,1.1)" text-anchor="middle" class="t">40</text><text transform="translate(191.70,235.05) scale(1,1.1)" text-anchor="end" class="t">60</text><text transform="translate(261.55,308.40) scale(1,1.1)" text-anchor="middle" class="t">60</text><text transform="translate(191.70,214.00) scale(1,1.1)" text-anchor="end" class="t">80</text><text transform="translate(282.60,308.40) scale(1,1.1)" text-anchor="middle" class="t">80</text><text transform="translate(191.70,192.95) scale(1,1.1)" text-anchor="end" class="t">100</text><text transform="translate(303.65,308.40) scale(1,1.1)" text-anchor="middle" class="t">100</text><text transform="translate(251.02,319.30) scale(1,1.1)" text-anchor="middle" class="t">100-Specificity</text><text transform="translate(168.50,242.88) rotate(-90) scale(1,1.1)" text-anchor="middle" class="ts">Sensitivity</text><text x="199.20" y="183.80" textLength="103.30" lengthAdjust="spacingAndGlyphs" class="tb">OPA with Canny algorithm</text><polyline points="198.40,295.50 198.40,216.56 303.65,190.25" fill="none" stroke="#4a78ad" stroke-width="1.1" stroke-linejoin="miter"/><rect x="245.40" y="273.60" width="58.25" height="21.90" fill="#fff" stroke="#8a8a8a" stroke-width="1"/><text transform="translate(250.10,282.70) scale(1,1.1)" class="tx">AUC = 0.875</text><text transform="translate(250.10,291.20) scale(1,1.1)" class="tx">P &lt; 0.001</text></g>
<g><line x1="382.75" y1="299.30" x2="382.75" y2="186.45" stroke="#f3f3f3" stroke-width="1"/><line x1="357.90" y1="274.45" x2="470.75" y2="274.45" stroke="#f3f3f3" stroke-width="1"/><line x1="403.80" y1="299.30" x2="403.80" y2="186.45" stroke="#f3f3f3" stroke-width="1"/><line x1="357.90" y1="253.40" x2="470.75" y2="253.40" stroke="#f3f3f3" stroke-width="1"/><line x1="424.85" y1="299.30" x2="424.85" y2="186.45" stroke="#f3f3f3" stroke-width="1"/><line x1="357.90" y1="232.35" x2="470.75" y2="232.35" stroke="#f3f3f3" stroke-width="1"/><line x1="445.90" y1="299.30" x2="445.90" y2="186.45" stroke="#f3f3f3" stroke-width="1"/><line x1="357.90" y1="211.30" x2="470.75" y2="211.30" stroke="#f3f3f3" stroke-width="1"/><line x1="466.95" y1="299.30" x2="466.95" y2="186.45" stroke="#f3f3f3" stroke-width="1"/><line x1="357.90" y1="190.25" x2="470.75" y2="190.25" stroke="#f3f3f3" stroke-width="1"/><line x1="361.70" y1="295.50" x2="466.95" y2="190.25" stroke="#ece5e5" stroke-width="1"/><line x1="357.90" y1="186.95" x2="357.90" y2="299.30" stroke="#7c7c7c" stroke-width="1.3"/><line x1="357.90" y1="299.30" x2="470.75" y2="299.30" stroke="#7c7c7c" stroke-width="1.3"/><line x1="357.90" y1="295.50" x2="361.90" y2="295.50" stroke="#7c7c7c" stroke-width="1"/><line x1="361.70" y1="299.30" x2="361.70" y2="295.70" stroke="#8c8c8c" stroke-width="0.9"/><line x1="357.90" y1="290.24" x2="359.90" y2="290.24" stroke="#9a9a9a" stroke-width="0.8"/><line x1="366.96" y1="299.30" x2="366.96" y2="297.70" stroke="#b4b4b4" stroke-width="0.9"/><line x1="357.90" y1="284.98" x2="359.90" y2="284.98" stroke="#9a9a9a" stroke-width="0.8"/><line x1="372.22" y1="299.30" x2="372.22" y2="297.70" stroke="#b4b4b4" stroke-width="0.9"/><line x1="357.90" y1="279.71" x2="359.90" y2="279.71" stroke="#9a9a9a" stroke-width="0.8"/><line x1="377.49" y1="299.30" x2="377.49" y2="297.70" stroke="#b4b4b4" stroke-width="0.9"/><line x1="357.90" y1="274.45" x2="361.90" y2="274.45" stroke="#7c7c7c" stroke-width="1"/><line x1="382.75" y1="299.30" x2="382.75" y2="295.70" stroke="#8c8c8c" stroke-width="0.9"/><line x1="357.90" y1="269.19" x2="359.90" y2="269.19" stroke="#9a9a9a" stroke-width="0.8"/><line x1="388.01" y1="299.30" x2="388.01" y2="297.70" stroke="#b4b4b4" stroke-width="0.9"/><line x1="357.90" y1="263.93" x2="359.90" y2="263.93" stroke="#9a9a9a" stroke-width="0.8"/><line x1="393.27" y1="299.30" x2="393.27" y2="297.70" stroke="#b4b4b4" stroke-width="0.9"/><line x1="357.90" y1="258.66" x2="359.90" y2="258.66" stroke="#9a9a9a" stroke-width="0.8"/><line x1="398.54" y1="299.30" x2="398.54" y2="297.70" stroke="#b4b4b4" stroke-width="0.9"/><line x1="357.90" y1="253.40" x2="361.90" y2="253.40" stroke="#7c7c7c" stroke-width="1"/><line x1="403.80" y1="299.30" x2="403.80" y2="295.70" stroke="#8c8c8c" stroke-width="0.9"/><line x1="357.90" y1="248.14" x2="359.90" y2="248.14" stroke="#9a9a9a" stroke-width="0.8"/><line x1="409.06" y1="299.30" x2="409.06" y2="297.70" stroke="#b4b4b4" stroke-width="0.9"/><line x1="357.90" y1="242.88" x2="359.90" y2="242.88" stroke="#9a9a9a" stroke-width="0.8"/><line x1="414.32" y1="299.30" x2="414.32" y2="297.70" stroke="#b4b4b4" stroke-width="0.9"/><line x1="357.90" y1="237.61" x2="359.90" y2="237.61" stroke="#9a9a9a" stroke-width="0.8"/><line x1="419.59" y1="299.30" x2="419.59" y2="297.70" stroke="#b4b4b4" stroke-width="0.9"/><line x1="357.90" y1="232.35" x2="361.90" y2="232.35" stroke="#7c7c7c" stroke-width="1"/><line x1="424.85" y1="299.30" x2="424.85" y2="295.70" stroke="#8c8c8c" stroke-width="0.9"/><line x1="357.90" y1="227.09" x2="359.90" y2="227.09" stroke="#9a9a9a" stroke-width="0.8"/><line x1="430.11" y1="299.30" x2="430.11" y2="297.70" stroke="#b4b4b4" stroke-width="0.9"/><line x1="357.90" y1="221.82" x2="359.90" y2="221.82" stroke="#9a9a9a" stroke-width="0.8"/><line x1="435.38" y1="299.30" x2="435.38" y2="297.70" stroke="#b4b4b4" stroke-width="0.9"/><line x1="357.90" y1="216.56" x2="359.90" y2="216.56" stroke="#9a9a9a" stroke-width="0.8"/><line x1="440.64" y1="299.30" x2="440.64" y2="297.70" stroke="#b4b4b4" stroke-width="0.9"/><line x1="357.90" y1="211.30" x2="361.90" y2="211.30" stroke="#7c7c7c" stroke-width="1"/><line x1="445.90" y1="299.30" x2="445.90" y2="295.70" stroke="#8c8c8c" stroke-width="0.9"/><line x1="357.90" y1="206.04" x2="359.90" y2="206.04" stroke="#9a9a9a" stroke-width="0.8"/><line x1="451.16" y1="299.30" x2="451.16" y2="297.70" stroke="#b4b4b4" stroke-width="0.9"/><line x1="357.90" y1="200.78" x2="359.90" y2="200.78" stroke="#9a9a9a" stroke-width="0.8"/><line x1="456.42" y1="299.30" x2="456.42" y2="297.70" stroke="#b4b4b4" stroke-width="0.9"/><line x1="357.90" y1="195.51" x2="359.90" y2="195.51" stroke="#9a9a9a" stroke-width="0.8"/><line x1="461.69" y1="299.30" x2="461.69" y2="297.70" stroke="#b4b4b4" stroke-width="0.9"/><line x1="357.90" y1="190.25" x2="361.90" y2="190.25" stroke="#7c7c7c" stroke-width="1"/><line x1="466.95" y1="299.30" x2="466.95" y2="295.70" stroke="#8c8c8c" stroke-width="0.9"/><text transform="translate(355.00,298.20) scale(1,1.1)" text-anchor="end" class="t">0</text><text transform="translate(361.70,308.40) scale(1,1.1)" text-anchor="middle" class="t">0</text><text transform="translate(355.00,277.15) scale(1,1.1)" text-anchor="end" class="t">20</text><text transform="translate(382.75,308.40) scale(1,1.1)" text-anchor="middle" class="t">20</text><text transform="translate(355.00,256.10) scale(1,1.1)" text-anchor="end" class="t">40</text><text transform="translate(403.80,308.40) scale(1,1.1)" text-anchor="middle" class="t">40</text><text transform="translate(355.00,235.05) scale(1,1.1)" text-anchor="end" class="t">60</text><text transform="translate(424.85,308.40) scale(1,1.1)" text-anchor="middle" class="t">60</text><text transform="translate(355.00,214.00) scale(1,1.1)" text-anchor="end" class="t">80</text><text transform="translate(445.90,308.40) scale(1,1.1)" text-anchor="middle" class="t">80</text><text transform="translate(355.00,192.95) scale(1,1.1)" text-anchor="end" class="t">100</text><text transform="translate(466.95,308.40) scale(1,1.1)" text-anchor="middle" class="t">100</text><text transform="translate(414.32,319.30) scale(1,1.1)" text-anchor="middle" class="t">100-Specificity</text><text transform="translate(331.80,242.88) rotate(-90) scale(1,1.1)" text-anchor="middle" class="ts">Sensitivity</text><text x="349.00" y="181.10" textLength="145.70" lengthAdjust="spacingAndGlyphs" class="tb">CBCT MAR (on) with Canny algorithm</text><polyline points="361.70,295.50 370.47,190.25 466.95,190.25" fill="none" stroke="#4a78ad" stroke-width="1.1" stroke-linejoin="miter"/><rect x="409.20" y="273.60" width="57.75" height="21.90" fill="#fff" stroke="#8a8a8a" stroke-width="1"/><text transform="translate(413.90,282.70) scale(1,1.1)" class="tx">AUC = 0.958</text><text transform="translate(413.90,291.20) scale(1,1.1)" class="tx">P &lt; 0.001</text></g>
<g><line x1="565.65" y1="300.20" x2="565.65" y2="187.35" stroke="#f3f3f3" stroke-width="1"/><line x1="540.80" y1="275.35" x2="653.65" y2="275.35" stroke="#f3f3f3" stroke-width="1"/><line x1="586.70" y1="300.20" x2="586.70" y2="187.35" stroke="#f3f3f3" stroke-width="1"/><line x1="540.80" y1="254.30" x2="653.65" y2="254.30" stroke="#f3f3f3" stroke-width="1"/><line x1="607.75" y1="300.20" x2="607.75" y2="187.35" stroke="#f3f3f3" stroke-width="1"/><line x1="540.80" y1="233.25" x2="653.65" y2="233.25" stroke="#f3f3f3" stroke-width="1"/><line x1="628.80" y1="300.20" x2="628.80" y2="187.35" stroke="#f3f3f3" stroke-width="1"/><line x1="540.80" y1="212.20" x2="653.65" y2="212.20" stroke="#f3f3f3" stroke-width="1"/><line x1="649.85" y1="300.20" x2="649.85" y2="187.35" stroke="#f3f3f3" stroke-width="1"/><line x1="540.80" y1="191.15" x2="653.65" y2="191.15" stroke="#f3f3f3" stroke-width="1"/><line x1="544.60" y1="296.40" x2="649.85" y2="191.15" stroke="#ece5e5" stroke-width="1"/><line x1="540.80" y1="187.85" x2="540.80" y2="300.20" stroke="#7c7c7c" stroke-width="1.3"/><line x1="540.80" y1="300.20" x2="653.65" y2="300.20" stroke="#7c7c7c" stroke-width="1.3"/><line x1="540.80" y1="296.40" x2="544.80" y2="296.40" stroke="#7c7c7c" stroke-width="1"/><line x1="544.60" y1="300.20" x2="544.60" y2="296.60" stroke="#8c8c8c" stroke-width="0.9"/><line x1="540.80" y1="291.14" x2="542.80" y2="291.14" stroke="#9a9a9a" stroke-width="0.8"/><line x1="549.86" y1="300.20" x2="549.86" y2="298.60" stroke="#b4b4b4" stroke-width="0.9"/><line x1="540.80" y1="285.88" x2="542.80" y2="285.88" stroke="#9a9a9a" stroke-width="0.8"/><line x1="555.12" y1="300.20" x2="555.12" y2="298.60" stroke="#b4b4b4" stroke-width="0.9"/><line x1="540.80" y1="280.61" x2="542.80" y2="280.61" stroke="#9a9a9a" stroke-width="0.8"/><line x1="560.39" y1="300.20" x2="560.39" y2="298.60" stroke="#b4b4b4" stroke-width="0.9"/><line x1="540.80" y1="275.35" x2="544.80" y2="275.35" stroke="#7c7c7c" stroke-width="1"/><line x1="565.65" y1="300.20" x2="565.65" y2="296.60" stroke="#8c8c8c" stroke-width="0.9"/><line x1="540.80" y1="270.09" x2="542.80" y2="270.09" stroke="#9a9a9a" stroke-width="0.8"/><line x1="570.91" y1="300.20" x2="570.91" y2="298.60" stroke="#b4b4b4" stroke-width="0.9"/><line x1="540.80" y1="264.82" x2="542.80" y2="264.82" stroke="#9a9a9a" stroke-width="0.8"/><line x1="576.18" y1="300.20" x2="576.18" y2="298.60" stroke="#b4b4b4" stroke-width="0.9"/><line x1="540.80" y1="259.56" x2="542.80" y2="259.56" stroke="#9a9a9a" stroke-width="0.8"/><line x1="581.44" y1="300.20" x2="581.44" y2="298.60" stroke="#b4b4b4" stroke-width="0.9"/><line x1="540.80" y1="254.30" x2="544.80" y2="254.30" stroke="#7c7c7c" stroke-width="1"/><line x1="586.70" y1="300.20" x2="586.70" y2="296.60" stroke="#8c8c8c" stroke-width="0.9"/><line x1="540.80" y1="249.04" x2="542.80" y2="249.04" stroke="#9a9a9a" stroke-width="0.8"/><line x1="591.96" y1="300.20" x2="591.96" y2="298.60" stroke="#b4b4b4" stroke-width="0.9"/><line x1="540.80" y1="243.77" x2="542.80" y2="243.77" stroke="#9a9a9a" stroke-width="0.8"/><line x1="597.23" y1="300.20" x2="597.23" y2="298.60" stroke="#b4b4b4" stroke-width="0.9"/><line x1="540.80" y1="238.51" x2="542.80" y2="238.51" stroke="#9a9a9a" stroke-width="0.8"/><line x1="602.49" y1="300.20" x2="602.49" y2="298.60" stroke="#b4b4b4" stroke-width="0.9"/><line x1="540.80" y1="233.25" x2="544.80" y2="233.25" stroke="#7c7c7c" stroke-width="1"/><line x1="607.75" y1="300.20" x2="607.75" y2="296.60" stroke="#8c8c8c" stroke-width="0.9"/><line x1="540.80" y1="227.99" x2="542.80" y2="227.99" stroke="#9a9a9a" stroke-width="0.8"/><line x1="613.01" y1="300.20" x2="613.01" y2="298.60" stroke="#b4b4b4" stroke-width="0.9"/><line x1="540.80" y1="222.72" x2="542.80" y2="222.72" stroke="#9a9a9a" stroke-width="0.8"/><line x1="618.27" y1="300.20" x2="618.27" y2="298.60" stroke="#b4b4b4" stroke-width="0.9"/><line x1="540.80" y1="217.46" x2="542.80" y2="217.46" stroke="#9a9a9a" stroke-width="0.8"/><line x1="623.54" y1="300.20" x2="623.54" y2="298.60" stroke="#b4b4b4" stroke-width="0.9"/><line x1="540.80" y1="212.20" x2="544.80" y2="212.20" stroke="#7c7c7c" stroke-width="1"/><line x1="628.80" y1="300.20" x2="628.80" y2="296.60" stroke="#8c8c8c" stroke-width="0.9"/><line x1="540.80" y1="206.94" x2="542.80" y2="206.94" stroke="#9a9a9a" stroke-width="0.8"/><line x1="634.06" y1="300.20" x2="634.06" y2="298.60" stroke="#b4b4b4" stroke-width="0.9"/><line x1="540.80" y1="201.67" x2="542.80" y2="201.67" stroke="#9a9a9a" stroke-width="0.8"/><line x1="639.33" y1="300.20" x2="639.33" y2="298.60" stroke="#b4b4b4" stroke-width="0.9"/><line x1="540.80" y1="196.41" x2="542.80" y2="196.41" stroke="#9a9a9a" stroke-width="0.8"/><line x1="644.59" y1="300.20" x2="644.59" y2="298.60" stroke="#b4b4b4" stroke-width="0.9"/><line x1="540.80" y1="191.15" x2="544.80" y2="191.15" stroke="#7c7c7c" stroke-width="1"/><line x1="649.85" y1="300.20" x2="649.85" y2="296.60" stroke="#8c8c8c" stroke-width="0.9"/><text transform="translate(537.90,299.10) scale(1,1.1)" text-anchor="end" class="t">0</text><text transform="translate(544.60,309.30) scale(1,1.1)" text-anchor="middle" class="t">0</text><text transform="translate(537.90,278.05) scale(1,1.1)" text-anchor="end" class="t">20</text><text transform="translate(565.65,309.30) scale(1,1.1)" text-anchor="middle" class="t">20</text><text transform="translate(537.90,257.00) scale(1,1.1)" text-anchor="end" class="t">40</text><text transform="translate(586.70,309.30) scale(1,1.1)" text-anchor="middle" class="t">40</text><text transform="translate(537.90,235.95) scale(1,1.1)" text-anchor="end" class="t">60</text><text transform="translate(607.75,309.30) scale(1,1.1)" text-anchor="middle" class="t">60</text><text transform="translate(537.90,214.90) scale(1,1.1)" text-anchor="end" class="t">80</text><text transform="translate(628.80,309.30) scale(1,1.1)" text-anchor="middle" class="t">80</text><text transform="translate(537.90,193.85) scale(1,1.1)" text-anchor="end" class="t">100</text><text transform="translate(649.85,309.30) scale(1,1.1)" text-anchor="middle" class="t">100</text><text transform="translate(597.23,320.20) scale(1,1.1)" text-anchor="middle" class="t">100-Specificity</text><text transform="translate(514.80,243.77) rotate(-90) scale(1,1.1)" text-anchor="middle" class="ts">Sensitivity</text><text x="535.20" y="182.00" textLength="146.50" lengthAdjust="spacingAndGlyphs" class="tb">CBCT MAR (off) with Canny algorithm</text><polyline points="544.60,296.40 544.60,217.46 649.85,191.15" fill="none" stroke="#4a78ad" stroke-width="1.1" stroke-linejoin="miter"/><rect x="591.70" y="274.50" width="58.15" height="21.90" fill="#fff" stroke="#8a8a8a" stroke-width="1"/><text transform="translate(596.40,283.60) scale(1,1.1)" class="tx">AUC = 0.875</text><text transform="translate(596.40,292.10) scale(1,1.1)" class="tx">P &lt; 0.001</text></g>
</svg>
</body></html>
